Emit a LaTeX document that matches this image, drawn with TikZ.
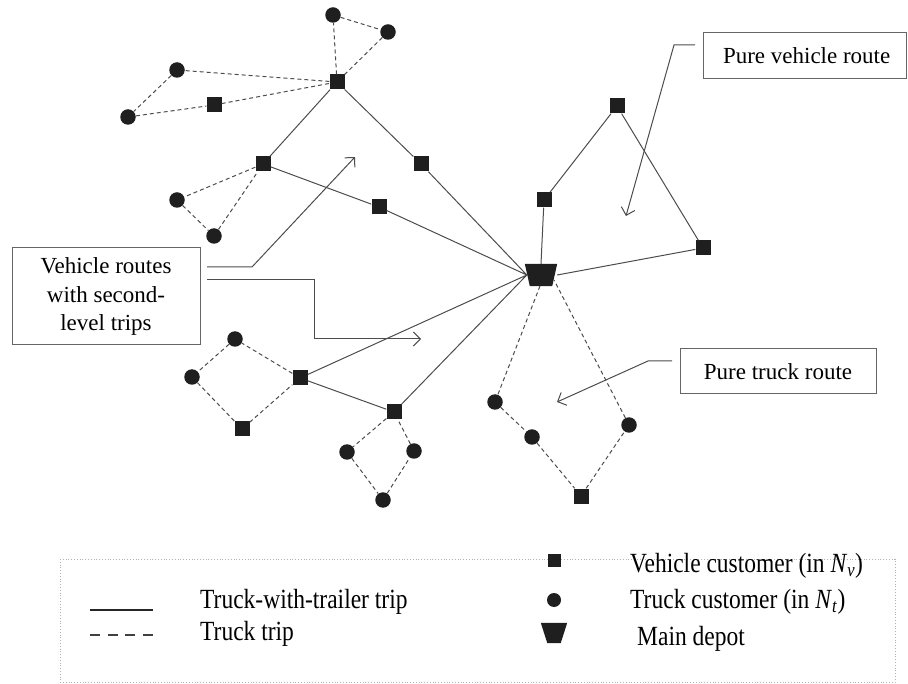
\documentclass[tikz,border=0pt]{standalone}
\usepackage{graphicx}
\usepackage{fontspec}
\setmainfont{Liberation Serif}
\usetikzlibrary{arrows.meta,calc}
\tikzset{
  sq/.style={rectangle, fill=black!88, minimum size=15pt, inner sep=0pt},
  ci/.style={circle, fill=black!88, minimum size=15.5pt, inner sep=0pt},
  depotbox/.style={rectangle, minimum width=32pt, minimum height=22pt, inner sep=0pt},
  route/.style={draw=black!70, line width=1pt},
  trip/.style={draw=black!70, line width=1pt, dash pattern=on 4pt off 3pt},
  callout/.style={draw=black!70, line width=1pt, -{Straight Barb[length=7pt,width=14pt]}},
  labelbox/.style={draw=black!60, line width=1pt, font=\fontsize{23}{28.5}\selectfont, align=center, inner sep=0pt},
  legtext/.style={font=\fontsize{23.5}{28}\selectfont, anchor=base west, inner sep=0pt},
}
\begin{document}
\begin{tikzpicture}[x=1pt,y=-1pt]
\clip (0,0) rectangle (908,684);
\useasboundingbox (0,0) rectangle (908,684);

% depot
\node[depotbox] (D) at (541,275) {};
\fill[black!88] (D.north west) -- (D.north east) -- ($(D.south east)+(-5,0)$) -- ($(D.south west)+(5,0)$) -- cycle;

% top-left route
\node[sq] (s1) at (337,82) {};
\node[ci] (c1) at (333,15) {};
\node[ci] (c2) at (388,32) {};
\node[ci] (c3) at (177,70) {};
\node[sq] (s2) at (214,105) {};
\node[ci] (c4) at (128,117) {};
\node[sq] (s3) at (263,164) {};
\node[ci] (c5) at (177,200) {};
\node[ci] (c6) at (214,236) {};
\node[sq] (s4) at (421,164) {};
\node[sq] (s5) at (379,207) {};

% right route
\node[sq] (s6) at (544,200) {};
\node[sq] (s7) at (617,106) {};
\node[sq] (s8) at (703,248) {};

% lower-left route
\node[ci] (c7) at (235,339) {};
\node[ci] (c8) at (192,377) {};
\node[sq] (s9) at (300,378) {};
\node[sq] (s10) at (242,429) {};
\node[sq] (s11) at (394,412) {};
\node[ci] (c9) at (347,452) {};
\node[ci] (c10) at (414,451) {};
\node[ci] (c11) at (383,500) {};

% lower-right truck route
\node[ci] (c12) at (495,402) {};
\node[ci] (c13) at (532,437) {};
\node[sq] (s12) at (581,496) {};
\node[ci] (c14) at (629,425) {};

% solid (truck-with-trailer) trips
\coordinate (Dw) at ($(D.west)+(2,0)$);
\draw[route] (Dw) -- (s4) -- (s1) -- (s3) -- (s5) -- (Dw);
\draw[route] (D.north) -- (s6) -- (s7) -- (s8) -- (D.east);
\draw[route] (Dw) -- (s9) -- (s11) -- (Dw);

% dashed (truck) trips
\draw[trip] (s1) -- (c1) -- (c2) -- (s1);
\draw[trip] (s1) -- (c3) -- (c4) -- (s2) -- (s1);
\draw[trip] (s3) -- (c5) -- (c6) -- (s3);
\draw[trip] (s9) -- (c7) -- (c8) -- (s10) -- (s9);
\draw[trip] (s11) -- (c9) -- (c11) -- (c10) -- (s11);
\coordinate (Db) at ($(D.center)+(-1,11)$);
\coordinate (Dr) at ($(D.center)+(13,5)$);
\draw[trip] (Db) -- (c12) -- (c13) -- (s12) -- (c14) -- (Dr);

% label boxes
\node[labelbox, minimum width=188pt, minimum height=97pt] (VR) at (106,296.5) {Vehicle routes\\with second-\\level trips};
\node[labelbox, minimum width=203pt, minimum height=46pt, text width=203pt, align=flush left] (PV) at (804.5,56)
  {\hspace*{20pt}Pure vehicle route};
\node[labelbox, minimum width=196pt, minimum height=45pt] (PT) at (778,371.5) {Pure truck route};

% callouts
\coordinate (a1s) at (207,267);
\coordinate (a1m) at (252,267);
\coordinate (a1e) at (355,157);
\draw[callout] (a1s) -- (a1m) -- (a1e);
\coordinate (a2s) at (207,280);
\coordinate (a2m) at (314,280);
\coordinate (a2n) at (314,339);
\coordinate (a2e) at (421,339);
\draw[callout] (a2s) -- (a2m) -- (a2n) -- (a2e);
\coordinate (a3s) at (695,45);
\coordinate (a3m) at (674,45);
\coordinate (a3e) at (626,216);
\draw[callout] (a3s) -- (a3m) -- (a3e);
\coordinate (a4s) at (672,361);
\coordinate (a4m) at (648,361);
\coordinate (a4e) at (557,402);
\draw[callout] (a4s) -- (a4m) -- (a4e);

% legend
\draw[draw=black!30, line width=0.8pt, dotted] (60,559) rectangle (895,682);
\coordinate (l1a) at (90,610);
\coordinate (l1b) at (153,610);
\draw[draw=black!85, line width=2.2pt] (l1a) -- (l1b);
\coordinate (l2a) at (90,635);
\coordinate (l2b) at (153,635);
\draw[draw=black!75, line width=2.2pt, dash pattern=on 10pt off 7.5pt] (l2a) -- (l2b);
\node[legtext] (t1) at (200,608) {\scalebox{1}[1.18]{Truck-with-trailer trip}};
\node[legtext] (t2) at (200,640) {\scalebox{1}[1.18]{Truck trip}};

\node[sq, minimum size=13pt] (ls) at (554,560) {};
\node[ci, minimum size=14pt] (lc) at (554,600) {};
\node[rectangle, minimum width=26pt, minimum height=20pt, inner sep=0pt] (ld) at (554,633) {};
\fill[black!88] (ld.north west) -- (ld.north east) -- ($(ld.south east)+(-6.5,0)$) -- ($(ld.south west)+(6.5,0)$) -- cycle;
\node[legtext] (t3) at (630,572) {\scalebox{1}[1.18]{Vehicle customer (in \textit{N}\textsubscript{\textit{v}})}};
\node[legtext] (t4) at (630,608) {\scalebox{1}[1.18]{Truck customer (in \textit{N}\textsubscript{\textit{t}})}};
\node[legtext] (t5) at (637,645) {\scalebox{1}[1.18]{Main depot}};
\end{tikzpicture}
\end{document}
